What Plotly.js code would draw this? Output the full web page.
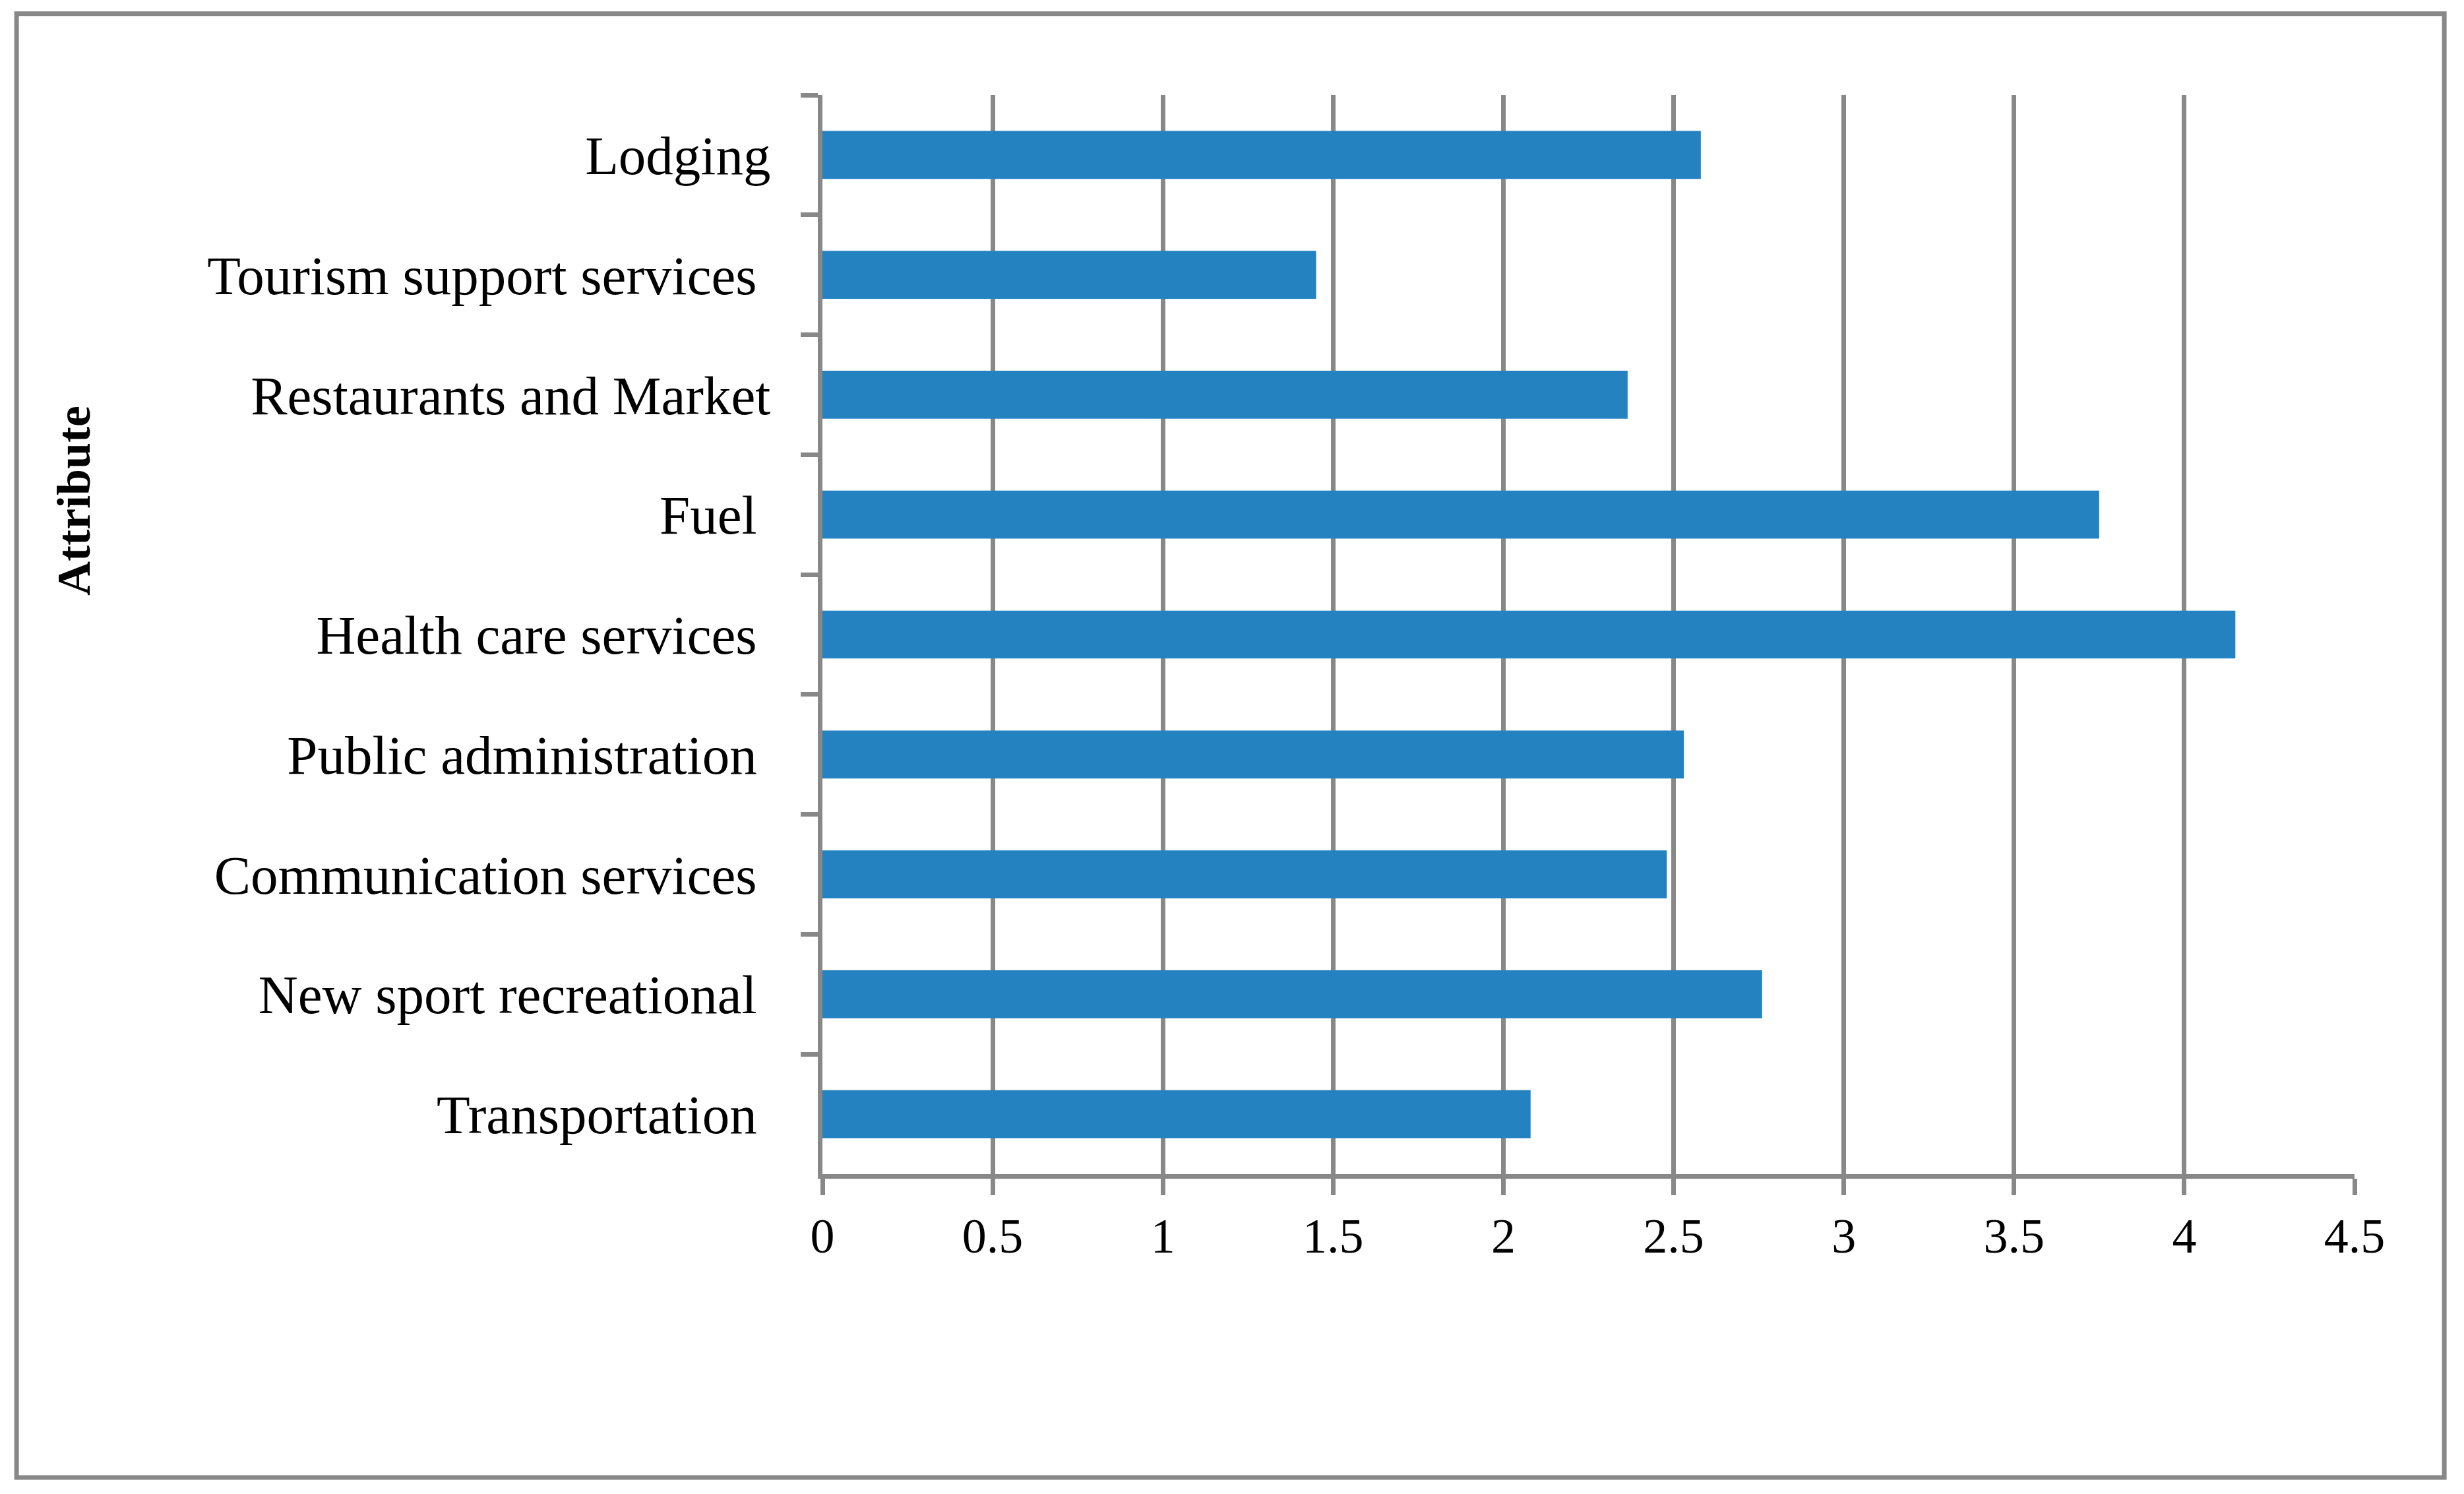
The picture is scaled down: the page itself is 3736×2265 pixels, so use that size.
<!DOCTYPE html>
<html>
<head>
<meta charset="utf-8">
<script src="https://cdn.plot.ly/plotly-3.0.1.min.js"></script>
<style>html,body{margin:0;padding:0;background:#fff;}#chart{width:3736px;height:2265px;}</style>
</head>
<body>
<div id="chart"></div>
<script>
// Categories listed top to bottom as in the reference
var categories = [
  "Lodging",
  "Tourism support services\u00A0",
  "Restaurants and Market",
  "Fuel\u00A0",
  "Health care services\u00A0",
  "Public administration\u00A0",
  "Communication services\u00A0",
  "New sport recreational\u00A0",
  "Transportation\u00A0"
];
var values = [2.58, 1.45, 2.365, 3.75, 4.15, 2.53, 2.48, 2.76, 2.08];
var xTickVals = [0, 0.5, 1, 1.5, 2, 2.5, 3, 3.5, 4, 4.5];
var xTickText = ["0", "0.5", "1", "1.5", "2", "2.5", "3", "3.5", "4", "4.5"];
var yAxisTitle = "Attribute";

var gray = "#888888";
var serif = "'Liberation Serif', 'Times New Roman', serif";

var trace = {
  type: "bar",
  orientation: "h",
  y: categories,
  x: values,
  marker: {color: "#2582C0"},
  hoverinfo: "x+y"
};

var layout = {
  width: 3736,
  height: 2265,
  paper_bgcolor: "#ffffff",
  plot_bgcolor: "#ffffff",
  margin: {l: 1247, r: 166, t: 144, b: 485, pad: 0},
  bargap: 0.6,
  showlegend: false,
  font: {family: serif, color: "#000000", size: 78},
  xaxis: {
    range: [0, 4.5],
    tickmode: "array",
    tickvals: xTickVals,
    ticktext: xTickText,
    showgrid: true,
    gridcolor: gray,
    gridwidth: 7,
    zeroline: false,
    showline: true,
    linecolor: gray,
    linewidth: 7,
    ticks: "outside",
    ticklen: 25,
    tickwidth: 7,
    tickcolor: gray,
    tickfont: {family: serif, size: 74, color: "#000000"},
    ticklabelstandoff: -2
  },
  yaxis: {
    type: "category",
    autorange: "reversed",
    showgrid: false,
    zeroline: false,
    showline: true,
    linecolor: gray,
    linewidth: 7,
    ticks: "outside",
    tickson: "boundaries",
    ticklen: 26,
    tickwidth: 7,
    tickcolor: gray,
    tickfont: {family: serif, size: 83, color: "#000000"},
    ticklabelstandoff: 55
  },
  shapes: [{
    type: "rect",
    xref: "paper", yref: "paper",
    x0: -0.5260, x1: 1.0586,
    y0: -0.2812, y1: 1.0754,
    line: {color: gray, width: 7},
    fillcolor: "rgba(0,0,0,0)"
  }],
  annotations: [{
    text: "<b>" + yAxisTitle + "</b>",
    xref: "paper", yref: "paper",
    x: -0.4886, y: 0.6241,
    xanchor: "center", yanchor: "middle",
    textangle: -90,
    showarrow: false,
    font: {family: serif, size: 72, color: "#000000"}
  }]
};

Plotly.newPlot("chart", [trace], layout, {staticPlot: true, displayModeBar: false});
</script>
</body>
</html>
